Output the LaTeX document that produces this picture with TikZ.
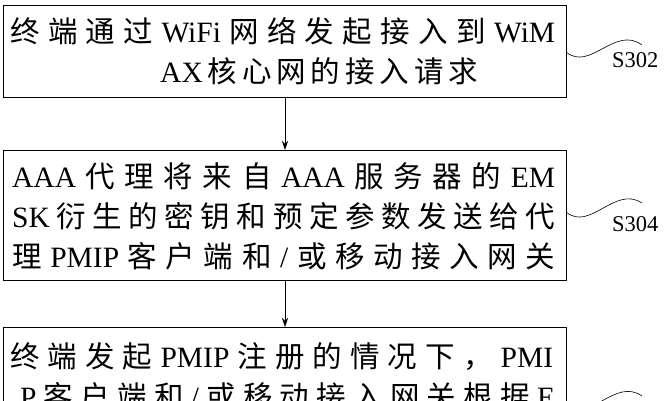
\documentclass[tikz,border=0pt]{standalone}
\usepackage{fontspec}
\usetikzlibrary{arrows.meta}
\setmainfont{Liberation Serif}
\newfontfamily\zhfont{Noto Sans CJK SC}
\newcommand{\zh}[1]{{\zhfont #1}}
\newcommand{\jline}[2]{\makebox[#1][s]{#2}}
\begin{document}
\begin{tikzpicture}[x=1pt,y=-1pt,
  stepbox/.style={draw,line width=0.8pt},
  txt/.style={anchor=base west,inner sep=0pt,font=\fontsize{29.5}{29.5}\selectfont},
  lab/.style={anchor=west,inner sep=0pt,font=\fontsize{22.5}{22.5}\selectfont},
  wave/.style={line width=0.6pt},
  arr/.style={-{Stealth[length=9pt,width=6pt]},line width=0.6pt}]
\useasboundingbox (0,0) rectangle (666,400);
\clip (0,0) rectangle (666,400);
\fill[white] (0,0) rectangle (666,400);
% boxes
\draw[stepbox] (3,5) rectangle (566,97);
\coordinate (b1t) at (285,97);
\coordinate (b2t) at (285,150);
\draw[stepbox] (3,150) rectangle (566,280);
\coordinate (b2b) at (285,280);
\coordinate (b3t) at (285,327);
\draw[stepbox] (3,327) rectangle (566,430);
\draw[arr] (b1t) -- (b2t);
\draw[arr] (b2b) -- (b3t);
% text
\node[txt] (t11) at (10,42) {\jline{545pt}{\zh{终} \zh{端} \zh{通} \zh{过} WiFi \zh{网} \zh{络} \zh{发} \zh{起} \zh{接} \zh{入} \zh{到} WiM}};
\node[txt] (t12) at (160,82) {\jline{310pt}{AX \zh{核} \zh{心} \zh{网} \zh{的} \zh{接} \zh{入} \zh{请} \zh{求}}};
\node[txt] (t21) at (12,187) {\jline{543pt}{AAA \zh{代} \zh{理} \zh{将} \zh{来} \zh{自} AAA \zh{服} \zh{务} \zh{器} \zh{的} EM}};
\node[txt] (t22) at (12,227) {\jline{543pt}{SK \zh{衍} \zh{生} \zh{的} \zh{密} \zh{钥} \zh{和} \zh{预} \zh{定} \zh{参} \zh{数} \zh{发} \zh{送} \zh{给} \zh{代}}};
\node[txt] (t23) at (12,267) {\jline{543pt}{\zh{理} PMIP \zh{客} \zh{户} \zh{端} \zh{和} / \zh{或} \zh{移} \zh{动} \zh{接} \zh{入} \zh{网} \zh{关}}};
\node[txt] (t31) at (10,367) {\jline{543pt}{\zh{终} \zh{端} \zh{发} \zh{起} PMIP \zh{注} \zh{册} \zh{的} \zh{情} \zh{况} \zh{下} \zh{，} PMI}};
\node[txt] (t32) at (20,407) {\jline{535pt}{P \zh{客} \zh{户} \zh{端} \zh{和} / \zh{或} \zh{移} \zh{动} \zh{接} \zh{入} \zh{网} \zh{关} \zh{根} \zh{据} E}};
% labels
\coordinate (w1a) at (566,52);
\coordinate (w1b) at (642,45);
\draw[wave] (w1a) .. controls (590,72) and (615,25) .. (w1b);
\node[lab] (s302) at (612,60) {S302};
\coordinate (w2a) at (566,212);
\coordinate (w2b) at (642,203);
\draw[wave] (w2a) .. controls (590,232) and (615,185) .. (w2b);
\node[lab] (s304) at (612,224) {S304};
\coordinate (w3a) at (566,404);
\coordinate (w3b) at (642,396);
\draw[wave] (w3a) .. controls (590,424) and (615,377) .. (w3b);
\end{tikzpicture}
\end{document}
